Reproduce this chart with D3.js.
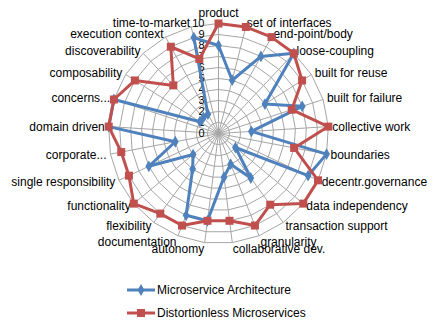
<!DOCTYPE html>
<html lang="en">
<head>
    <meta charset="UTF-8">
    <title>Radar chart</title>
    <script src="https://d3js.org/d3.v7.min.js"></script>
    <style>
        body {
            margin: 0;
            padding: 0;
            background-color: #fff;
        }
        svg text {
            font-family: "Liberation Sans", Arial, sans-serif;
            font-size: 12px;
            fill: #000;
        }
        svg text.tick {
            font-size: 11px;
        }
    </style>
</head>
<body>
    <svg id="chart" width="443" height="335"></svg>

    <script>
        // Axis categories, clockwise from the top
        const categories = [
            'product', 'set of interfaces', 'end-point/body', 'loose-coupling',
            'built for reuse', 'built for failure', 'collective work', 'boundaries',
            'decentr.governance', 'data independency', 'transaction support', 'granularity',
            'collaborative dev.', 'autonomy', 'documentation', 'flexibility',
            'functionality', 'single responsibility', 'corporate...', 'domain driven',
            'concerns...', 'composability', 'discoverability', 'execution context',
            'time-to-market'
        ];

        const microservice = [8, 5, 8, 10, 5, 8, 3, 10, 9, 2, 5, 3, 4, 8, 8, 4, 3, 7, 4, 10, 10, 2, 2, 2, 9];
        const distortionless = [10, 10, 10, 10, 9, 7, 10, 7, 10, 10, 8, 9, 8, 8, 9, 9, 10, 9, 9, 10, 10, 9, 6, 9, 7];

        const tickValues = d3.range(0, 11);

        const seriesNames = ['Microservice Architecture', 'Distortionless Microservices'];
        const seriesColors = ['#4f81bd', '#c0504d'];

        const cx = 218.5;
        const cy = 133.5;
        const radius = 110;

        const svg = d3.select('#chart');

        const r = d3.scaleLinear().domain([0, 10]).range([0, radius]);
        const angle = d3.scaleLinear().domain([0, categories.length]).range([0, 2 * Math.PI]);

        const g = svg.append('g').attr('transform', `translate(${cx},${cy})`);

        const px = (i, v) => r(v) * Math.sin(angle(i));
        const py = (i, v) => -r(v) * Math.cos(angle(i));

        // Rings (polygons)
        const ringLine = d3.lineRadial()
            .angle((d, i) => angle(i))
            .radius(d => r(d))
            .curve(d3.curveLinearClosed);

        g.selectAll('.ring')
            .data(tickValues.slice(1))
            .enter()
            .append('path')
            .attr('class', 'ring')
            .attr('d', t => ringLine(categories.map(() => t)))
            .attr('fill', 'none')
            .attr('stroke', '#a6a6a6')
            .attr('stroke-width', 1);

        // Spokes
        g.selectAll('.spoke')
            .data(categories)
            .enter()
            .append('line')
            .attr('class', 'spoke')
            .attr('x1', 0)
            .attr('y1', 0)
            .attr('x2', (d, i) => px(i, 10))
            .attr('y2', (d, i) => py(i, 10))
            .attr('stroke', '#a6a6a6')
            .attr('stroke-width', 1);

        // Tick labels along the top axis
        g.selectAll('.tick')
            .data(tickValues)
            .enter()
            .append('text')
            .attr('class', 'tick')
            .attr('x', -14)
            .attr('y', t => -r(t))
            .attr('dy', '0.35em')
            .attr('text-anchor', 'end')
            .text(t => t);

        // Category labels
        g.selectAll('.cat')
            .data(categories)
            .enter()
            .append('text')
            .attr('class', 'cat')
            .each(function (d, i) {
                const s = Math.sin(angle(i));
                const c = Math.cos(angle(i));
                const el = d3.select(this);
                const lx = (radius + 4) * s;
                const ly = -(radius + 4) * c;
                if (Math.abs(s) < 0.01) {
                    el.attr('x', lx).attr('y', -radius - 7).attr('text-anchor', 'middle');
                } else {
                    el.attr('x', lx)
                        .attr('y', ly + (c < -0.9 ? 2 : 0))
                        .attr('dy', '0.35em')
                        .attr('text-anchor', s > 0 ? 'start' : 'end');
                }
            })
            .text(d => d);

        // Series
        const seriesLine = d3.lineRadial()
            .angle((d, i) => angle(i))
            .radius(d => r(d))
            .curve(d3.curveLinearClosed);

        const diamond = d3.symbol().type(d3.symbolDiamond).size(40);

        [microservice, distortionless].forEach((values, k) => {
            g.append('path')
                .attr('d', seriesLine(values))
                .attr('fill', 'none')
                .attr('stroke', seriesColors[k])
                .attr('stroke-width', 3)
                .attr('stroke-linejoin', 'round');

            if (k === 0) {
                g.selectAll('.m0')
                    .data(values)
                    .enter()
                    .append('path')
                    .attr('class', 'm0')
                    .attr('transform', (d, i) => `translate(${px(i, d)},${py(i, d)})`)
                    .attr('d', diamond)
                    .attr('fill', seriesColors[k]);
            } else {
                g.selectAll('.m1')
                    .data(values)
                    .enter()
                    .append('rect')
                    .attr('class', 'm1')
                    .attr('x', (d, i) => px(i, d) - 4)
                    .attr('y', (d, i) => py(i, d) - 4)
                    .attr('width', 8)
                    .attr('height', 8)
                    .attr('fill', seriesColors[k]);
            }
        });

        // Legend
        const legend = svg.append('g').attr('transform', 'translate(127,290)');
        seriesNames.forEach((name, k) => {
            const row = legend.append('g').attr('transform', `translate(0,${k * 23})`);
            row.append('line')
                .attr('x1', 0).attr('x2', 28)
                .attr('y1', 0).attr('y2', 0)
                .attr('stroke', seriesColors[k])
                .attr('stroke-width', 3);
            if (k === 0) {
                row.append('path')
                    .attr('transform', 'translate(14,0)')
                    .attr('d', diamond)
                    .attr('fill', seriesColors[k]);
            } else {
                row.append('rect')
                    .attr('x', 10).attr('y', -4)
                    .attr('width', 8).attr('height', 8)
                    .attr('fill', seriesColors[k]);
            }
            row.append('text')
                .attr('x', 30)
                .attr('y', 0)
                .attr('dy', '0.35em')
                .text(name);
        });
    </script>
</body>
</html>
